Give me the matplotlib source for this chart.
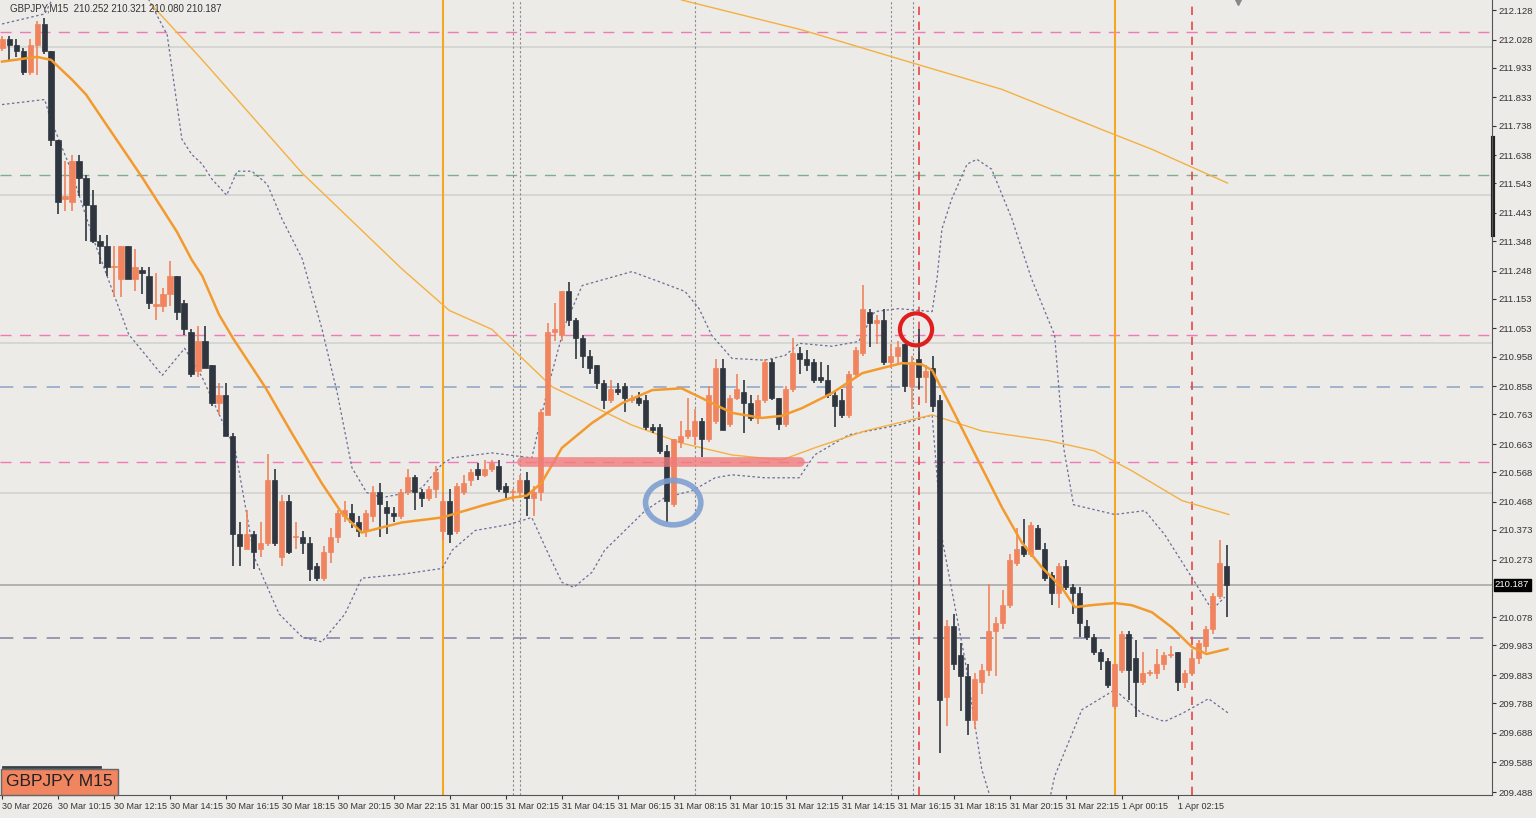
import numpy as np
import matplotlib
matplotlib.use("Agg")
import matplotlib.pyplot as plt
from matplotlib.patches import Rectangle, Ellipse

# GBPJPY M15 candles, bar 0 = 30 Mar 08:15
opens = [212.00,212.03,212.01,211.99,211.92,212.01,212.08,211.99,211.69,211.49,
         211.48,211.62,211.56,211.47,211.35,211.33,211.26,211.22,211.33,211.22,
         211.25,211.23,211.13,211.13,211.17,211.23,211.14,211.04,210.91,211.01,
         210.93,210.80,210.83,210.69,210.36,210.31,210.36,210.31,210.33,210.54,
         210.28,210.47,210.35,210.35,210.33,210.25,210.21,210.30,210.35,210.42,
         210.43,210.40,210.37,210.42,210.50,210.45,210.43,210.42,210.50,210.55,
         210.50,210.48,210.51,210.37,210.47,210.37,210.50,210.54,210.58,210.56,
         210.58,210.59,210.52,210.50,210.50,210.54,210.48,210.50,210.76,211.04,
         211.03,211.18,211.08,211.02,210.96,210.93,210.87,210.81,210.85,210.86,
         210.81,210.82,210.81,210.72,210.72,210.64,210.46,210.67,210.69,210.69,
         210.74,210.68,210.74,210.92,210.73,210.82,210.84,210.80,210.75,210.81,
         210.94,210.82,210.73,210.85,210.97,210.95,210.94,210.89,210.88,210.83,
         210.81,210.76,210.90,210.97,211.11,211.07,211.08,210.94,210.96,211.00,
         210.86,210.95,210.89,210.92,210.81,209.81,210.05,209.95,209.88,209.73,
         209.86,209.90,210.03,210.06,210.12,210.26,210.32,210.29,210.38,210.31,
         210.22,210.16,210.25,210.18,210.16,210.05,210.01,209.96,209.93,209.78,
         209.90,210.02,209.94,209.86,209.89,209.89,209.92,209.95,209.96,209.86,
         209.89,209.94,209.98,210.04,210.15,210.252]
highs = [212.04,212.04,212.03,212.00,212.03,212.09,212.10,211.99,211.69,211.62,
         211.64,211.64,211.57,211.52,211.37,211.37,211.33,211.33,211.33,211.32,
         211.26,211.26,211.24,211.19,211.28,211.23,211.15,211.05,211.06,211.06,
         210.93,210.87,210.87,210.70,210.40,210.44,210.37,210.40,210.63,210.58,
         210.49,210.49,210.40,210.37,210.35,210.26,210.32,210.38,210.44,210.47,
         210.46,210.42,210.44,210.52,210.53,210.47,210.45,210.51,210.58,210.56,
         210.51,210.52,210.59,210.50,210.51,210.53,210.56,210.58,210.60,210.61,
         210.61,210.61,210.53,210.51,210.56,210.57,210.52,210.78,211.07,211.14,
         211.18,211.21,211.09,211.03,210.98,210.93,210.88,210.88,210.87,210.87,
         210.83,210.84,210.83,210.73,210.73,210.66,210.68,210.74,210.82,210.78,
         210.75,210.86,210.95,210.95,210.83,210.90,210.88,210.83,210.83,210.95,
         210.95,210.82,210.86,211.02,210.99,210.98,210.95,210.94,210.93,210.84,
         210.85,210.91,210.99,211.20,211.12,211.10,211.12,211.00,211.01,211.00,
         210.96,211.05,210.93,210.96,210.83,210.07,210.09,209.99,209.92,209.89,
         209.92,210.19,210.08,210.17,210.29,210.38,210.41,210.40,210.39,210.33,
         210.23,210.26,210.27,210.19,210.18,210.07,210.02,209.97,209.94,209.92,
         210.03,210.03,210.00,209.96,209.90,209.97,209.96,209.98,209.96,209.90,
         209.97,210.00,210.05,210.16,210.34,210.321]
lows = [211.99,211.96,211.97,211.91,211.91,211.91,211.98,211.67,211.44,211.45,
        211.45,211.50,211.35,211.34,211.27,211.23,211.16,211.16,211.22,211.18,
        211.17,211.12,211.08,211.11,211.13,211.08,211.03,210.89,210.89,210.92,
        210.79,210.76,210.69,210.25,210.25,210.31,210.24,210.28,210.32,210.32,
        210.25,210.29,210.31,210.29,210.20,210.20,210.20,210.26,210.33,210.40,
        210.38,210.35,210.35,210.40,210.35,210.36,210.40,210.41,210.49,210.44,
        210.45,210.47,210.48,210.34,210.33,210.36,210.49,210.52,210.54,210.55,
        210.57,210.50,210.48,210.47,210.48,210.42,210.42,210.47,210.76,211.01,
        211.01,211.06,210.95,210.92,210.90,210.85,210.78,210.80,210.83,210.77,
        210.80,210.79,210.71,210.70,210.63,210.40,210.45,210.65,210.68,210.66,
        210.62,210.67,210.73,210.71,210.72,210.81,210.70,210.74,210.73,210.80,
        210.81,210.71,210.72,210.84,210.90,210.91,210.87,210.87,210.82,210.72,
        210.75,210.75,210.89,210.96,210.99,211.00,210.93,210.92,210.93,210.84,
        210.78,210.85,210.80,210.77,209.62,209.71,209.90,209.76,209.68,209.70,
        209.82,209.88,209.88,210.04,210.11,210.25,210.28,210.28,210.31,210.20,
        210.12,210.11,210.17,210.09,210.01,210.00,209.95,209.90,209.84,209.77,
        209.89,209.80,209.74,209.85,209.88,209.87,209.90,209.94,209.83,209.84,
        209.88,209.92,209.96,210.02,210.14,210.080]
closes = [212.03,212.01,211.99,211.92,212.01,212.08,211.99,211.69,211.48,211.50,
          211.62,211.56,211.47,211.35,211.33,211.26,211.26,211.33,211.22,211.26,
          211.24,211.14,211.13,211.17,211.23,211.11,211.05,210.90,211.01,210.92,
          210.80,210.83,210.69,210.36,210.32,210.36,210.30,210.33,210.54,210.33,
          210.47,210.30,210.35,210.33,210.24,210.21,210.30,210.35,210.43,210.44,
          210.40,210.37,210.43,210.50,210.46,210.43,210.42,210.50,210.55,210.50,
          210.48,210.51,210.57,210.47,210.36,210.52,210.53,210.57,210.56,210.58,
          210.60,210.51,210.50,210.50,210.54,210.48,210.50,210.77,211.04,211.05,
          211.18,211.08,211.02,210.96,210.92,210.87,210.81,210.85,210.84,210.82,
          210.82,210.80,210.72,210.71,210.64,210.47,210.68,210.69,210.71,210.74,
          210.68,210.83,210.92,210.71,210.82,210.85,210.80,210.75,210.81,210.94,
          210.82,210.73,210.85,210.97,210.95,210.93,210.88,210.88,210.83,210.79,
          210.76,210.90,210.98,211.12,211.07,211.08,210.94,210.96,210.99,210.86,
          210.94,210.89,210.91,210.79,209.80,210.05,209.92,209.88,209.73,209.87,
          209.90,210.03,210.06,210.12,210.27,210.31,210.29,210.39,210.31,210.21,
          210.16,210.25,210.18,210.16,210.06,210.01,209.96,209.93,209.85,209.92,
          210.02,209.90,209.86,209.89,209.89,209.92,209.95,209.95,209.86,209.89,
          209.94,209.99,210.04,210.15,210.26,210.187]

# indicator lines (bar index, price)
ma_fast_x = [0,5,7,10,12,15,20,25,27.1,28.6,31,33,37.6,41.4,45.7,48.6,51.4,57.1,62.9,68.6,72.9,75,77.1,80,
             84.3,88.6,92.9,97.1,100,104.3,108.6,111.4,114.3,118.6,122.9,125.7,128.6,131.4,132.9,135.7,140,
             142.9,145.7,148.6,151.4,153.3,155.7,159,161.4,164.3,167.1,170,172.1,175.1]
ma_fast_y = [211.954,211.970,211.960,211.893,211.843,211.738,211.564,211.379,211.285,211.231,211.10,211.02,
             210.855,210.70,210.53,210.428,210.364,210.398,210.415,210.455,210.482,210.489,210.532,210.650,
             210.734,210.801,210.845,210.851,210.818,210.768,210.751,210.758,210.784,210.835,210.902,210.919,
             210.936,210.932,210.912,210.784,210.583,210.448,210.331,210.246,210.179,210.112,210.119,210.126,
             210.119,210.095,210.045,209.978,209.954,209.971]
ma_slow_x = [21.4,28.6,42.9,57.1,63.9,70,78.6,90,97.1,104.3,111.4,116.1,123.3,131,132.9,140,149.6,156.1,
             161.4,168.6,175.3]
ma_slow_y = [212.145,211.960,211.577,211.255,211.114,211.05,210.856,210.727,210.666,210.626,210.609,210.650,
             210.707,210.751,210.761,210.707,210.674,210.640,210.573,210.472,210.425]
ma_long_x = [97.1,114.3,128.6,142.9,157.1,164.3,175.1]
ma_long_y = [212.162,212.061,211.960,211.860,211.725,211.658,211.544]
bb_up_x = [0,6.1,8.6,18.6,21,23.6,25.7,27.1,28.6,30,32.1,33.6,35.7,37.9,40,42.9,45.7,47.9,50,52.1,54.3,57.1,
           60,62.9,64.3,70,75.7,78.1,80.4,82.9,90,93.9,97.6,99.6,101.4,104.3,109,111.9,113.9,118.6,122.4,124.7,
           128.1,132.9,133.6,134.3,135.7,137.9,139.3,141.4,144.3,147.1,150.4,151.7,153.1,159,163.3,166.1,170,
           172.9,174.7]
bb_up_y = [212.081,212.115,212.229,212.229,212.162,212.044,211.692,211.641,211.608,211.557,211.503,211.584,
           211.584,211.540,211.423,211.288,211.053,210.835,210.583,210.499,210.482,210.495,210.515,210.596,
           210.616,210.633,210.616,210.862,211.063,211.198,211.245,211.211,211.178,211.120,211.030,210.952,
           210.946,210.962,211.003,210.993,211.009,211.110,211.120,211.110,211.221,211.389,211.490,211.608,
           211.624,211.591,211.423,211.221,211.031,210.650,210.458,210.425,210.438,210.358,210.213,210.103,
           210.146]
bb_lo_x = [0,6.1,6.9,9.6,13.3,18.1,22.9,26.1,28.6,33.3,36.1,39.6,42.9,45.7,49,51.4,57.1,62.9,64.3,67.6,72.4,
           75.7,78.1,80,81.7,84.3,86.1,91.9,94.7,98.6,101.9,104.3,109,113.9,116.1,121,128.1,132.9,134.3,137.6,
           140,142.9,148.6,150.4,154.3,159,162.9,166.1,168.6,172.4,175.3]
bb_lo_y = [211.809,211.826,211.762,211.604,211.339,211.033,210.895,210.986,210.888,210.646,210.277,210.089,
           210.011,209.995,210.089,210.210,210.223,210.243,210.304,210.371,210.391,210.415,210.290,210.196,
           210.179,210.230,210.304,210.438,210.482,210.505,210.549,210.559,210.549,210.549,210.626,210.694,
           210.727,210.761,210.347,209.934,209.564,209.340,209.340,209.541,209.766,209.833,209.753,209.726,
           209.753,209.803,209.753]

price_ticks = [212.128,212.028,211.933,211.833,211.738,211.638,211.543,211.443,211.348,211.248,211.153,
               211.053,210.958,210.858,210.763,210.663,210.568,210.468,210.373,210.273,210.078,209.983,
               209.883,209.788,209.688,209.588,209.488]
time_idx = list(range(0, 176, 8))
time_labels = ["30 Mar 2026"] + ["30 Mar %02d:15" % h for h in (10, 12, 14, 16, 18, 20, 22)] + \
              ["31 Mar %02d:15" % h for h in (0, 2, 4, 6, 8, 10, 12, 14, 16, 18, 20, 22)] + \
              ["1 Apr 00:15", "1 Apr 02:15"]
current = 210.187

bg = "#ecebe7"
bull = "#f0845e"
bear = "#2f363f"
tick_font = "Liberation Sans"

fig = plt.figure(figsize=(15.36, 8.18), dpi=100, facecolor=bg)
ax = fig.add_axes([0, 23/818, 1492/1536, 795/818], facecolor=bg)
ax.set_xlim(-0.29, 212.9)
ax.set_ylim(209.478, 212.162)

# horizontal levels
for p in [212.003, 211.503, 211.004, 210.497]:
    ax.axhline(p, color="#d2d2d0", lw=1.2, zorder=1)
ax.axhline(current, color="#a8a8a8", lw=1.2, zorder=1)
for p in [212.054, 211.031, 210.602]:
    ax.axhline(p, color="#f07ab8", lw=1, ls=(0, (8, 6)), zorder=1)
ax.axhline(211.571, color="#7fae8c", lw=1, ls=(0, (8, 6)), zorder=1)
ax.axhline(210.855, color="#93a8c8", lw=1.2, ls=(0, (8, 6)), zorder=1)
ax.axhline(210.008, color="#8a8aa8", lw=1.2, ls=(0, (8, 6)), zorder=1)

# vertical lines
for v in [63, 159]:
    ax.axvline(v, color="#f5a623", lw=1.5, zorder=1)
for v in [131, 170]:
    ax.axvline(v, color="#e84545", lw=1.2, ls=(0, (5, 4)), zorder=1)
for v in [73, 74, 99, 127, 130.2]:
    ax.axvline(v, color="#8a8a8a", lw=0.8, ls=(0, (2, 2)), zorder=1)

# indicators
ax.plot(bb_up_x, bb_up_y, color="#6c6c98", lw=0.9, ls=(0, (2, 2)), zorder=2)
ax.plot(bb_lo_x, bb_lo_y, color="#6c6c98", lw=0.9, ls=(0, (2, 2)), zorder=2)
ax.plot(ma_long_x, ma_long_y, color="#f5b041", lw=1, zorder=2)
ax.plot(ma_slow_x, ma_slow_y, color="#f5b041", lw=1, zorder=2)

# candles
for i in range(len(closes)):
    o, h, l, c = opens[i], highs[i], lows[i], closes[i]
    col = bull if c >= o else bear
    ax.vlines(i, l, h, color=col, lw=1.2, zorder=3)
    bh = max(abs(c - o), 0.004)
    ax.add_patch(Rectangle((i - 0.36, min(o, c)), 0.72, bh, facecolor=col, edgecolor=col, lw=0.5, zorder=4))

ax.plot(ma_fast_x, ma_fast_y, color="#f39a2e", lw=1.8, zorder=5)

# hand drawn marks
ax.plot([74.3, 114], [210.603, 210.603], color="#f07c7c", lw=7, alpha=0.8, solid_capstyle="round", zorder=6)
ax.add_patch(Ellipse((130.6, 211.05), 4.6, 0.108, fill=False, edgecolor="#e01e1e", lw=3, zorder=7))
ax.add_patch(Ellipse((95.9, 210.465), 7.9, 0.15, fill=False, edgecolor="#7f9fd0", lw=4, alpha=0.9, zorder=7))

# axes styling
for s in ["top", "left"]:
    ax.spines[s].set_visible(False)
ax.spines["right"].set_color("#555555")
ax.spines["bottom"].set_color("#555555")
ax.yaxis.tick_right()
ax.set_yticks(price_ticks)
ax.set_yticklabels(["%.3f" % p for p in price_ticks], fontfamily=tick_font)
ax.tick_params(axis="y", labelsize=6.8, length=3, pad=2, colors="#333333")
ax.set_xticks(time_idx)
ax.set_xticklabels(time_labels, ha="left", fontfamily=tick_font)
ax.tick_params(axis="x", labelsize=6.5, length=3, pad=2, colors="#333333")
ax.text(1.002, (current - 209.478) / (212.162 - 209.478), "%.3f" % current, transform=ax.transAxes,
        fontsize=6.8, color="white", va="center", ha="left", family=tick_font,
        bbox=dict(boxstyle="square,pad=0.15", facecolor="black", edgecolor="black"))
ax.plot([213.1, 213.1], [211.368, 211.696], color="#222222", lw=3, clip_on=False)
ax.plot([176.6], [212.155], marker="v", color="#888888", ms=5, clip_on=False)

ax.text(0.007, 0.996, "GBPJPY,M15  210.252 210.321 210.080 210.187", transform=ax.transAxes,
        fontsize=7, color="#333333", va="top", ha="left", family=tick_font)
fig.text(6/1536, 1 - 782/818, "GBPJPY M15", fontsize=12.5, color="#222222", va="center", ha="left",
         family=tick_font,
         bbox=dict(boxstyle="square,pad=0.3", facecolor="#f08560", edgecolor="#666666"))
fig.add_artist(plt.Line2D([3/1536, 100/1536], [1 - 767/818, 1 - 767/818], color="#3a4048", lw=2))

fig.savefig("out.png", dpi=100, facecolor=bg)
